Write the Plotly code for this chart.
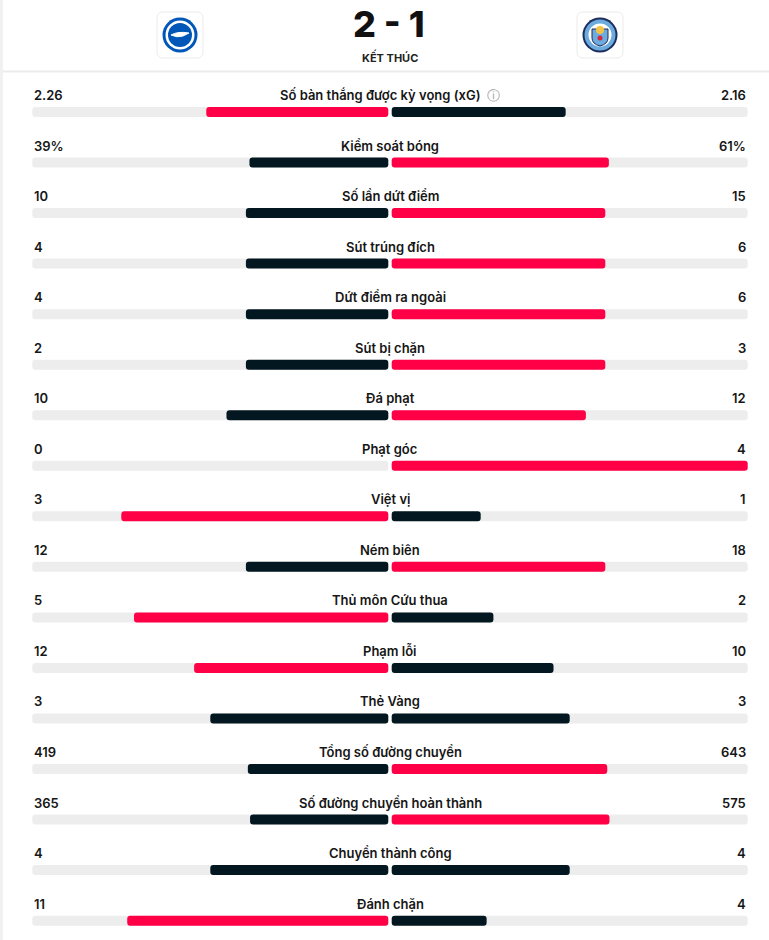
import plotly.graph_objects as go

# ---------------- data ----------------
stat_names = [
    "Số bàn thắng được kỳ vọng (xG)",
    "Kiểm soát bóng",
    "Số lần dứt điểm",
    "Sút trúng đích",
    "Dứt điểm ra ngoài",
    "Sút bị chặn",
    "Đá phạt",
    "Phạt góc",
    "Việt vị",
    "Ném biên",
    "Thủ môn Cứu thua",
    "Phạm lỗi",
    "Thẻ Vàng",
    "Tổng số đường chuyền",
    "Số đường chuyền hoàn thành",
    "Chuyền thành công",
    "Đánh chặn",
]
home_values = [2.26, 39, 10, 4, 4, 2, 10, 0, 3, 12, 5, 12, 3, 419, 365, 4, 11]
away_values = [2.16, 61, 15, 6, 6, 3, 12, 4, 1, 18, 2, 10, 3, 643, 575, 4, 4]
home_labels = ["2.26", "39%", "10", "4", "4", "2", "10", "0", "3", "12", "5", "12", "3", "419", "365", "4", "11"]
away_labels = ["2.16", "61%", "15", "6", "6", "3", "12", "4", "1", "18", "2", "10", "3", "643", "575", "4", "4"]
score_text = "2 - 1"
status_text = "KẾT THÚC"

# ---------------- styling ----------------
W, H = 769, 940
RED = "#FF0046"
DARK = "#02171F"
TRACK = "#EDEDED"
TEXT = "#161616"
FONT = "Inter"

CENTER_PX = 390.0
SCALE = 356.0          # pixels per unit of share
GAP = 1.7 / SCALE      # half gap between the two halves
ROW0_PX = 112.0
PITCH = 50.54
BAR_PX = 10.0

n = len(stat_names)
rows = list(range(n))

home_share, away_share, home_col, away_col = [], [], [], []
for h, a in zip(home_values, away_values):
    tot = h + a
    hs = h / tot if tot else 0
    as_ = a / tot if tot else 0
    home_share.append(hs)
    away_share.append(as_)
    home_col.append(RED if h > a else DARK)
    away_col.append(RED if a > h else DARK)

bw = BAR_PX / PITCH

fig = go.Figure()
# tracks
fig.add_trace(go.Bar(y=rows, x=[1.0] * n, base=[-(1.0 + GAP)] * n, orientation="h",
                     marker=dict(color=TRACK, line_width=0), width=bw, hoverinfo="skip"))
fig.add_trace(go.Bar(y=rows, x=[1.0] * n, base=[GAP] * n, orientation="h",
                     marker=dict(color=TRACK, line_width=0), width=bw, hoverinfo="skip"))
# values
fig.add_trace(go.Bar(y=rows, x=home_share, base=[-(s + GAP) for s in home_share], orientation="h",
                     marker=dict(color=home_col, line_width=0), width=bw, hoverinfo="skip"))
fig.add_trace(go.Bar(y=rows, x=away_share, base=[GAP] * n, orientation="h",
                     marker=dict(color=away_col, line_width=0), width=bw, hoverinfo="skip"))

x_lo = -CENTER_PX / SCALE
x_hi = (W - CENTER_PX) / SCALE
y_top = -ROW0_PX / PITCH
y_bot = (H - ROW0_PX) / PITCH

TEXT_OFF = 17.0 / PITCH

annotations = []
for i in rows:
    ty = i - TEXT_OFF
    annotations.append(dict(x=-(1.0 + GAP), y=ty, xref="x", yref="y", text=home_labels[i],
                            showarrow=False, xanchor="left", yanchor="middle",
                            font=dict(family=FONT, size=13, color=TEXT, weight=600)))
    annotations.append(dict(x=1.0 + GAP, y=ty, xref="x", yref="y", text=away_labels[i],
                            showarrow=False, xanchor="right", yanchor="middle",
                            font=dict(family=FONT, size=13, color=TEXT, weight=600)))
    name = stat_names[i]
    if i == 0:
        name = name + "  <span style='color:#9a9a9a;font-weight:400'>ⓘ</span>"
    annotations.append(dict(x=0, y=ty, xref="x", yref="y", text=name,
                            showarrow=False, xanchor="center", yanchor="middle",
                            font=dict(family=FONT, size=13, color=TEXT, weight=600)))


def px(x):
    return x / W


def py(y):
    return 1 - y / H


# header texts
annotations.append(dict(x=px(389), y=py(24), xref="paper", yref="paper", text=score_text,
                        showarrow=False, xanchor="center", yanchor="middle",
                        font=dict(family=FONT, size=36, color="#111111", weight=800)))
annotations.append(dict(x=px(390), y=py(57), xref="paper", yref="paper", text=status_text,
                        showarrow=False, xanchor="center", yanchor="middle",
                        font=dict(family=FONT, size=11, color="#222222", weight=700)))

shapes = []
# left strip
shapes.append(dict(type="rect", xref="paper", yref="paper", x0=0, x1=px(3), y0=0, y1=1,
                   fillcolor="#F1F1F1", line_width=0, layer="below"))
# header separator
shapes.append(dict(type="line", xref="paper", yref="paper", x0=px(3), x1=1, y0=py(71.5), y1=py(71.5),
                   line=dict(color="#ECECEC", width=2)))


def rounded_rect(x0, y0, x1, y1, r):
    pts = [
        f"M {px(x0 + r)},{py(y0)}",
        f"L {px(x1 - r)},{py(y0)}",
        f"Q {px(x1)},{py(y0)} {px(x1)},{py(y0 + r)}",
        f"L {px(x1)},{py(y1 - r)}",
        f"Q {px(x1)},{py(y1)} {px(x1 - r)},{py(y1)}",
        f"L {px(x0 + r)},{py(y1)}",
        f"Q {px(x0)},{py(y1)} {px(x0)},{py(y1 - r)}",
        f"L {px(x0)},{py(y0 + r)}",
        f"Q {px(x0)},{py(y0)} {px(x0 + r)},{py(y0)}",
        "Z",
    ]
    return " ".join(pts)


def logo_box(cx, cy):
    s = 23
    return dict(type="path", xref="paper", yref="paper",
                path=rounded_rect(cx - s, cy - s, cx + s, cy + s, 6),
                fillcolor="white", line=dict(color="#EBEBEB", width=1))


def circle(cx, cy, r, fill, line_color=None, lw=0):
    return dict(type="circle", xref="paper", yref="paper",
                x0=px(cx - r), x1=px(cx + r), y0=py(cy + r), y1=py(cy - r),
                fillcolor=fill, line=dict(color=line_color or fill, width=lw))


# Brighton badge
bx, by = 180, 35
shapes.append(logo_box(bx, by))
shapes.append(circle(bx, by, 17.5, "#0057B8"))
shapes.append(circle(bx, by, 14.5, "white"))
shapes.append(circle(bx, by, 12, "#0057B8"))
shapes.append(dict(type="path", xref="paper", yref="paper",
                   path=f"M {px(bx-9)},{py(by)} Q {px(bx-2)},{py(by-4)} {px(bx+9)},{py(by-2)} "
                        f"L {px(bx+3)},{py(by+1)} Q {px(bx-3)},{py(by+3)} {px(bx-9)},{py(by)} Z",
                   fillcolor="white", line=dict(color="white", width=1)))

# Man City badge
mx, my = 600, 35
shapes.append(logo_box(mx, my))
shapes.append(circle(mx, my, 17.5, "#1C2C5B"))
shapes.append(circle(mx, my, 15.5, "#6CABDD"))
shapes.append(circle(mx, my, 11.5, "white"))
shapes.append(dict(type="path", xref="paper", yref="paper",
                   path=f"M {px(mx-8)},{py(my-6)} L {px(mx+8)},{py(my-6)} L {px(mx+8)},{py(my+3)} "
                        f"Q {px(mx+8)},{py(my+9)} {px(mx)},{py(my+11)} Q {px(mx-8)},{py(my+9)} {px(mx-8)},{py(my+3)} Z",
                   fillcolor="#6CABDD", line=dict(color="#1C2C5B", width=1)))
shapes.append(circle(mx, my - 5, 4, "#F5C343"))
shapes.append(circle(mx, my + 3, 2.5, "#D7263D"))

fig.update_layout(
    width=W, height=H,
    margin=dict(l=0, r=0, t=0, b=0),
    paper_bgcolor="white", plot_bgcolor="white",
    barmode="overlay",
    barcornerradius=3,
    showlegend=False,
    xaxis=dict(range=[x_lo, x_hi], visible=False, fixedrange=True),
    yaxis=dict(range=[y_bot, y_top], visible=False, fixedrange=True),
    annotations=annotations,
    shapes=shapes,
)

fig.write_html("out.html", config={"displayModeBar": False},
               post_script="document.body.style.margin='0';document.body.style.overflow='hidden';")
